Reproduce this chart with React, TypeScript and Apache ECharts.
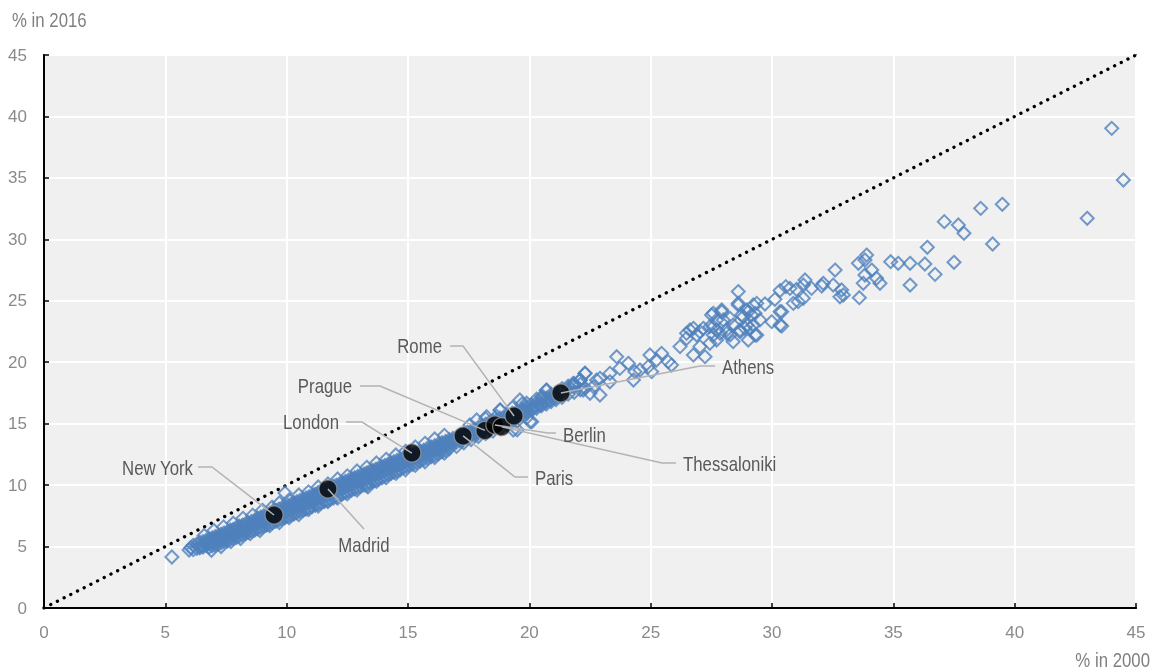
import React, { useEffect, useRef } from 'react';
import * as echarts from 'echarts';

// Metropolitan areas: % in 2000 (x) vs % in 2016 (y)
// Dense band: each row is [x, y1, y2, ...]
const bandColumns: number[][] = [
  [5.27, 4.15],
  [5.98, 4.72],
  [6.05, 4.9],
  [6.15, 4.75, 5.1],
  [6.3, 4.85, 5.2],
  [6.42, 5.0, 5.35, 4.9],
  [6.55, 5.05, 5.4, 4.95],
  [6.68, 5.1, 5.5, 5.3],
  [6.8, 5.2, 5.6, 5.35, 4.95],
  [6.93, 5.3, 5.7, 5.5, 5.05],
  [7.05, 5.35, 5.8, 5.55, 5.1],
  [7.18, 5.45, 5.9, 5.7, 5.2],
  [7.3, 5.55, 6.0, 5.75, 5.3],
  [7.42, 5.65, 6.1, 5.85, 5.4],
  [7.55, 5.8, 6.2, 5.95, 5.45],
  [7.68, 5.85, 6.35, 6.1, 5.6],
  [7.8, 5.95, 6.4, 6.2, 5.65],
  [7.93, 6.05, 6.55, 6.3, 5.75],
  [8.05, 6.2, 6.65, 6.4, 5.85],
  [8.18, 6.25, 6.75, 6.5, 5.95],
  [8.3, 6.35, 6.85, 6.6, 6.05],
  [8.42, 6.45, 6.95, 6.7, 6.15],
  [8.55, 6.6, 7.05, 6.8, 6.25],
  [8.68, 6.7, 7.15, 6.95, 6.35],
  [8.8, 6.8, 7.3, 7.05, 6.45],
  [8.93, 6.9, 7.4, 7.15, 6.55],
  [9.05, 7.0, 7.5, 7.25, 6.65],
  [9.18, 7.1, 7.6, 7.35, 6.75],
  [9.3, 7.2, 7.7, 7.45, 6.85],
  [9.42, 7.3, 7.85, 7.55, 6.95],
  [9.55, 7.4, 7.95, 7.65, 7.05],
  [9.68, 7.5, 8.05, 7.8, 7.15],
  [9.8, 7.6, 8.15, 7.9, 7.25],
  [9.93, 7.7, 8.25, 8.0, 7.35, 9.36],
  [10.05, 7.8, 8.35, 8.1, 7.45],
  [10.18, 7.9, 8.45, 8.2, 7.55],
  [10.3, 8.0, 8.55, 8.3, 7.65],
  [10.42, 8.1, 8.65, 8.4, 7.75],
  [10.55, 8.2, 8.75, 8.5, 7.85],
  [10.68, 8.3, 8.85, 8.6, 7.95],
  [10.8, 8.45, 8.95, 8.7, 8.05],
  [10.93, 8.55, 9.05, 8.8, 8.15],
  [11.05, 8.65, 9.15, 8.9, 8.25],
  [11.18, 8.75, 9.25, 9.0, 8.35],
  [11.3, 8.85, 9.4, 9.1, 8.45],
  [11.42, 8.95, 9.5, 9.2, 8.55],
  [11.55, 9.05, 9.6, 9.35, 8.65],
  [11.68, 9.15, 9.7, 9.45, 8.75],
  [11.8, 9.25, 9.8, 9.55, 8.85],
  [11.93, 9.35, 9.9, 9.65, 8.95],
  [12.05, 9.45, 10.0, 9.75, 9.05],
  [12.18, 9.55, 10.1, 9.85, 9.15],
  [12.3, 9.7, 10.2, 9.95, 9.3],
  [12.42, 9.8, 10.3, 10.05, 9.4],
  [12.55, 9.9, 10.4, 10.15, 9.5],
  [12.68, 10.0, 10.5, 10.25, 9.6],
  [12.8, 10.1, 10.6, 10.35, 9.7],
  [12.93, 10.2, 10.7, 10.45, 9.8],
  [13.05, 10.3, 10.8, 10.55, 9.9],
  [13.18, 10.4, 10.9, 10.65, 10.0],
  [13.3, 10.5, 11.0, 10.75, 10.1],
  [13.35, 9.85],
  [13.42, 10.6, 11.1, 10.85, 10.2],
  [13.55, 10.7, 11.2, 10.95, 10.3],
  [13.68, 10.8, 11.3, 11.05, 10.4],
  [13.8, 10.9, 11.4, 11.15, 10.5],
  [13.93, 11.0, 11.5, 11.25, 10.6],
  [14.05, 11.1, 11.6, 11.35, 10.75],
  [14.18, 11.2, 11.7, 11.45, 10.85],
  [14.3, 11.3, 11.8, 11.55, 10.95],
  [14.42, 11.4, 11.9, 11.65, 11.05],
  [14.55, 11.55, 12.0, 11.75, 11.15],
  [14.68, 11.65, 12.1, 11.85, 11.25],
  [14.8, 11.75, 12.2, 11.95, 11.4],
  [14.93, 11.85, 12.3, 12.05, 11.5],
  [15.05, 11.95, 12.4, 12.15, 11.6],
  [15.2, 12.05, 12.5, 12.3, 11.7],
  [15.35, 12.2, 12.65, 12.4, 11.85],
  [15.5, 12.3, 12.75, 12.5, 11.95],
  [15.65, 12.4, 12.85, 12.65, 12.1],
  [15.8, 12.55, 13.0, 12.75, 12.2],
  [15.95, 12.65, 13.1, 12.9, 12.3],
  [16.1, 12.8, 13.2, 13.0, 12.45],
  [16.25, 12.9, 13.35, 13.1, 12.55],
  [16.4, 13.0, 13.45, 13.25, 12.7],
  [16.55, 13.15, 13.55, 13.35, 12.8],
  [16.7, 13.25, 13.7, 13.5, 12.95],
  [16.85, 13.4, 13.8, 13.6],
  [17.0, 13.5, 13.9, 13.7, 13.15],
  [17.15, 13.6, 14.05, 13.85],
  [17.3, 13.75, 14.15, 13.95, 13.45],
  [17.45, 13.85, 14.3, 14.05],
  [17.6, 14.0, 14.4, 14.2, 13.7],
  [17.75, 14.1, 14.55, 14.3],
  [17.9, 14.25, 14.7, 14.45, 13.95],
  [18.05, 14.35, 14.8, 14.6],
  [18.2, 14.5, 14.95, 14.7, 14.2, 15.4],
  [18.35, 14.6, 15.1, 14.85],
  [18.5, 14.75, 15.2, 14.95, 14.4],
  [18.65, 14.85, 15.3, 15.1, 15.6],
  [18.8, 15.0, 15.45, 15.2, 14.6, 16.1],
  [18.95, 15.1, 15.55, 15.35],
  [19.1, 15.25, 15.7, 15.45, 14.9],
  [19.3, 15.4, 15.85, 15.6, 16.3],
  [19.5, 15.55, 16.0, 15.8, 15.2, 14.5],
  [19.7, 15.75, 16.2, 15.95, 16.6],
  [19.9, 15.9, 16.35, 16.1, 15.5],
  [20.1, 16.1, 16.55, 16.3, 15.15],
  [20.3, 16.25, 16.7, 16.45, 17.0],
  [20.5, 16.45, 16.9, 16.6, 17.2],
  [20.7, 16.6, 17.05, 16.8, 17.7],
  [20.9, 16.8, 17.25, 17.0, 17.4],
  [21.1, 16.95, 17.45, 17.15],
  [21.35, 17.15, 17.6, 17.85],
  [21.6, 17.4, 17.8, 18.05],
  [21.85, 17.55, 18.0, 18.25],
  [22.1, 17.75, 18.2, 18.55],
  [22.3, 19.1, 17.9],
];

// Points along the upper and lower rims of the band
const bandRimPoints: number[][] = [
  [6.6, 5.9], [7.0, 6.3], [7.4, 6.6], [7.8, 6.9], [8.2, 7.3], [8.6, 7.55], [9.0, 7.95], [9.4, 8.2],
  [9.7, 8.55], [10.1, 8.8], [10.5, 9.2], [10.9, 9.45], [11.3, 9.85], [11.7, 10.1], [12.1, 10.5],
  [12.5, 10.75], [12.9, 11.15], [13.3, 11.45], [13.7, 11.8], [14.1, 12.1], [14.5, 12.45],
  [14.9, 12.75], [15.3, 13.1], [15.7, 13.4], [16.1, 13.75], [16.5, 14.05],
  [6.9, 4.7], [7.3, 5.0], [7.7, 5.4], [8.1, 5.65], [8.5, 6.05], [8.9, 6.3], [9.3, 6.7], [9.7, 6.95],
  [10.1, 7.35], [10.5, 7.6], [10.9, 8.0], [11.3, 8.3], [11.7, 8.65], [12.1, 8.95], [12.5, 9.3],
  [12.9, 9.6], [13.3, 9.95], [13.7, 10.3], [14.1, 10.6], [14.5, 10.95], [14.9, 11.25],
  [15.3, 11.6], [15.7, 11.9], [16.1, 12.25], [16.5, 12.6],
];

// Sparser points beyond the band
const sparsePoints: number[][] = [
  [22.29, 19.09], [22.09, 18.55], [22.5, 17.47], [22.91, 17.33], [22.22, 17.74], [21.81, 18.15],
  [22.64, 18.01], [22.91, 18.69], [23.32, 19.09], [23.32, 18.41], [23.73, 19.5], [23.6, 20.45],
  [24.08, 19.91], [24.29, 18.55], [24.35, 19.23], [24.56, 19.37], [24.97, 20.59], [24.9, 19.64],
  [25.04, 19.23], [25.24, 20.18], [25.45, 20.72], [25.72, 20.05], [25.86, 19.77], [26.21, 21.27],
  [26.48, 21.94], [26.62, 22.62], [26.9, 22.21], [26.76, 20.59], [27.24, 20.45], [27.03, 21.27],
  [27.44, 21.54], [27.72, 21.81], [28.27, 22.21], [27.17, 22.76], [27.58, 22.89], [27.86, 22.35],
  [28.13, 22.62], [27.72, 23.44], [27.51, 23.84], [27.93, 24.11], [28.4, 21.67], [29.02, 21.81],
  [29.37, 22.21], [28.68, 22.48], [28.89, 22.76], [29.23, 23.03], [28.75, 23.84], [29.02, 24.11],
  [28.61, 24.66], [29.37, 24.79], [30.33, 24.11], [30.33, 23.03], [29.99, 23.3], [30.88, 24.79],
  [26.48, 22.35], [26.76, 22.76], [27.03, 22.48], [27.44, 22.89], [27.58, 22.21], [28.13, 22.35],
  [29.3, 22.21], [27.72, 22.62], [28.68, 22.62], [29.09, 22.76], [28.4, 23.03], [28.96, 23.03],
  [27.99, 23.44], [28.27, 23.57], [27.58, 23.98], [27.93, 24.25], [28.82, 23.7], [29.16, 23.84],
  [28.96, 24.25], [28.61, 24.8], [28.61, 25.75], [29.3, 23.98], [29.23, 24.66], [29.5, 23.44],
  [30.4, 22.95], [30.4, 24.11], [29.71, 24.74], [30.12, 25.12], [31.08, 24.93], [31.29, 25.2],
  [30.33, 25.83], [30.57, 26.15], [30.74, 26.01], [31.01, 25.93], [31.29, 26.28], [31.36, 26.69],
  [31.63, 26.01], [32.05, 26.2], [32.11, 26.42], [32.52, 26.28], [32.8, 25.33], [32.94, 25.47],
  [32.87, 25.88], [32.6, 27.5], [33.6, 25.25], [33.76, 26.42], [34.45, 26.42], [34.31, 26.83],
  [33.83, 27.1], [34.11, 27.5], [33.56, 28.05], [33.83, 28.32], [33.9, 28.72], [34.89, 28.18],
  [35.2, 28.05], [35.69, 28.05], [35.69, 26.28], [36.3, 27.99], [36.72, 27.15], [37.5, 28.13],
  [36.4, 29.35], [39.09, 29.62], [37.91, 30.49], [37.68, 31.17], [37.1, 31.44], [38.6, 32.52],
  [39.49, 32.85], [42.99, 31.71], [44.48, 34.83], [44.0, 39.03],
  [20.71, 17.74], [20.98, 17.2], [20.57, 17.2], [20.44, 16.52], [20.16, 16.25], [19.89, 16.66],
  [19.75, 15.97], [20.03, 15.16], [19.61, 16.93], [19.34, 14.48], [18.79, 16.11], [18.24, 15.57],
  [17.83, 15.3], [17.55, 14.89], [22.77, 18.55], [21.81, 18.28],
];

const cityNames = ['New York', 'Madrid', 'London', 'Paris', 'Prague', 'Berlin', 'Thessaloniki', 'Rome', 'Athens'];
const cityShare2000 = [9.48, 11.7, 15.16, 17.27, 18.17, 18.58, 18.86, 19.37, 21.3];
const cityShare2016 = [7.57, 9.68, 12.61, 14.0, 14.45, 14.89, 14.75, 15.62, 17.49];

const xAxisTitle = '% in 2000';
const yAxisTitle = '% in 2016';

// Label layout (pixels): text anchor and leader-line bend/end points
const labelLayout: Record<string, { tx: number; ty: number; align: string; pts: number[][] }> = {
  'New York': { tx: 193, ty: 468, align: 'right', pts: [[212, 467], [198, 467]] },
  Madrid: { tx: 364, ty: 545, align: 'center', pts: [[364, 529]] },
  London: { tx: 339, ty: 422, align: 'right', pts: [[362, 422], [346, 422]] },
  Prague: { tx: 352, ty: 386, align: 'right', pts: [[380, 386], [360, 386]] },
  Rome: { tx: 442, ty: 346, align: 'right', pts: [[463, 346], [450, 346]] },
  Athens: { tx: 722, ty: 367, align: 'left', pts: [[700, 366], [715, 366]] },
  Berlin: { tx: 563, ty: 435, align: 'left', pts: [[548, 433], [556, 433]] },
  Paris: { tx: 535, ty: 478, align: 'left', pts: [[515, 477], [528, 477]] },
  Thessaloniki: { tx: 683, ty: 464, align: 'left', pts: [[662, 463], [676, 463]] },
};

const FONT = "'Liberation Sans', Arial, sans-serif";
const NARROW = 0.84;

export default function App() {
  const ref = useRef<HTMLDivElement>(null);

  useEffect(() => {
    if (!ref.current) return;
    const chart = echarts.init(ref.current, undefined, { renderer: 'svg' });

    const scatterData: number[][] = [];
    bandColumns.forEach((col) => {
      for (let i = 1; i < col.length; i++) scatterData.push([col[0], col[i]]);
    });
    bandRimPoints.forEach((p) => scatterData.push(p));
    sparsePoints.forEach((p) => scatterData.push(p));

    const cityData = cityNames.map((n, i) => ({ name: n, value: [cityShare2000[i], cityShare2016[i]] }));

    const axisCommon = {
      type: 'value',
      min: 0,
      max: 45,
      interval: 5,
      axisLine: { show: true, lineStyle: { color: '#000', width: 2 } },
      axisTick: { show: true, inside: true, length: 5, lineStyle: { color: '#000', width: 1.5 } },
      splitLine: { show: true, lineStyle: { color: '#ffffff', width: 2 } },
      axisLabel: { color: '#8a8a8a', fontSize: 17, fontFamily: FONT },
    };

    chart.setOption({
      animation: false,
      grid: {
        left: 44,
        right: 25,
        top: 55,
        bottom: 62,
        show: true,
        backgroundColor: '#f0f0f0',
        borderColor: '#000',
        borderWidth: 1.5,
      },
      xAxis: { ...axisCommon, axisLabel: { ...axisCommon.axisLabel, margin: 16 } },
      yAxis: { ...axisCommon, axisLabel: { ...axisCommon.axisLabel, margin: 17 } },
      series: [
        {
          type: 'line',
          data: [[0, 0], [45, 45]],
          showSymbol: false,
          symbol: 'none',
          lineStyle: { color: '#000', width: 3.3, type: [0.1, 7.4], cap: 'round' },
          z: 1,
          silent: true,
        },
        {
          type: 'scatter',
          data: scatterData,
          symbol: 'diamond',
          symbolSize: 13,
          large: false,
          itemStyle: { color: 'rgba(0,0,0,0)', borderColor: '#4f81bd', borderWidth: 2 },
          z: 2,
        },
        {
          type: 'scatter',
          data: cityData,
          symbol: 'circle',
          symbolSize: 18,
          itemStyle: { color: '#000', borderColor: '#9a9a9a', borderWidth: 1.2 },
          z: 3,
        },
      ],
    });

    const textEl = (text: string, x: number, y: number, align: string, fill: string) => ({
      type: 'text',
      z: 101,
      x,
      y,
      scaleX: NARROW,
      style: {
        text,
        fill,
        fontSize: 20,
        fontFamily: FONT,
        align,
        verticalAlign: 'middle',
        textAlign: align,
        textVerticalAlign: 'middle',
      },
    });

    const graphics: any[] = [];
    cityNames.forEach((n, i) => {
      const p = chart.convertToPixel({ gridIndex: 0 }, [cityShare2000[i], cityShare2016[i]]) as number[];
      const lay = labelLayout[n];
      graphics.push({
        type: 'polyline',
        z: 100,
        shape: { points: [p, ...lay.pts] },
        style: { stroke: '#b3b3b3', lineWidth: 1.5, fill: null },
        silent: true,
      });
      graphics.push(textEl(n, lay.tx, lay.ty, lay.align, '#595959'));
    });
    graphics.push(textEl(yAxisTitle, 12, 20, 'left', '#7f7f7f'));
    graphics.push(textEl(xAxisTitle, 1150, 660, 'right', '#7f7f7f'));
    chart.setOption({ graphic: graphics });

    return () => chart.dispose();
  }, []);

  return (
    <div
      ref={ref}
      style={{ position: 'fixed', left: 0, top: 0, width: 1161, height: 670 }}
    />
  );
}
